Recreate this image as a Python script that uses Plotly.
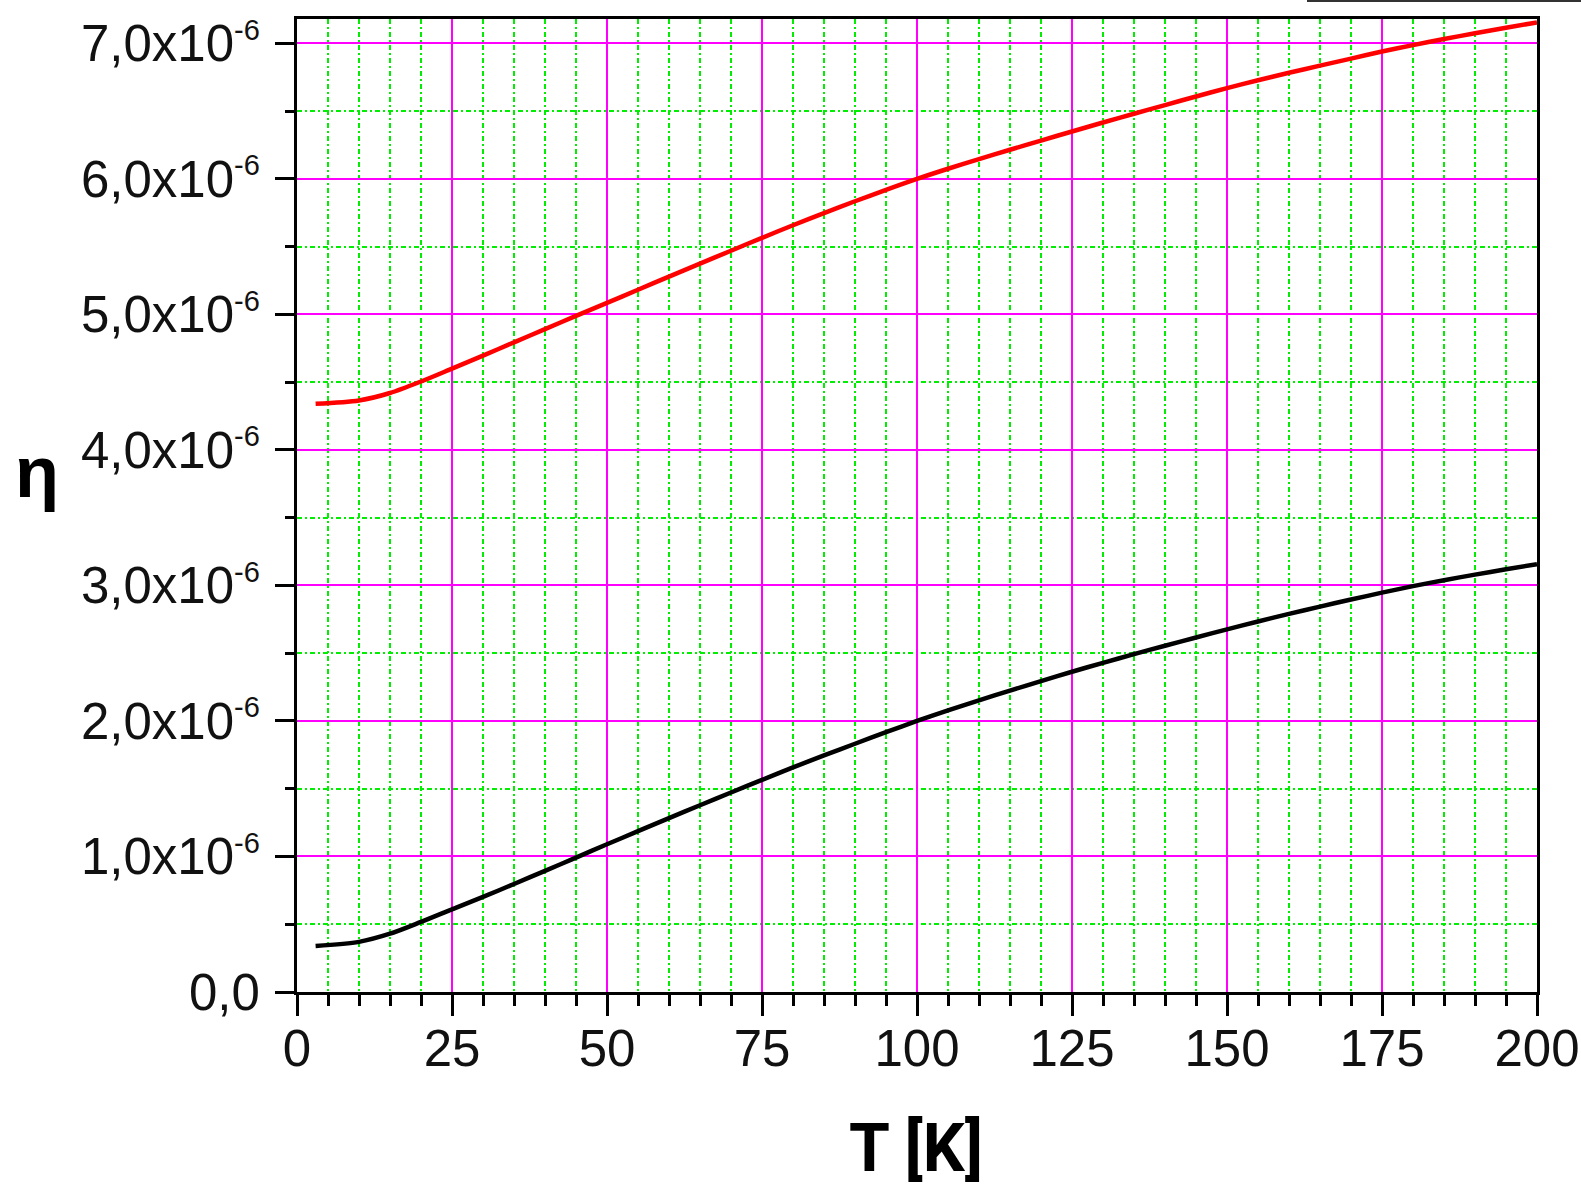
import plotly.graph_objects as go

# Data (eta in units of 1e-6)
T = [3, 10, 15, 20, 25, 30, 35, 40, 45, 50, 55, 60, 65, 70, 75, 80, 85, 90, 95, 100,
     105, 110, 115, 120, 125, 130, 135, 140, 145, 150, 155, 160, 165, 170, 175, 180,
     185, 190, 195, 200]
eta_red = [4.34, 4.365, 4.42, 4.505, 4.60, 4.696, 4.794, 4.892, 4.989, 5.085, 5.182, 5.279,
           5.375, 5.470, 5.565, 5.658, 5.748, 5.835, 5.919, 6.0, 6.075, 6.146, 6.215, 6.283,
           6.35, 6.416, 6.481, 6.545, 6.608, 6.67, 6.728, 6.783, 6.836, 6.888, 6.94, 6.987,
           7.032, 7.075, 7.116, 7.155]
eta_black = [0.34, 0.37, 0.43, 0.517, 0.61, 0.702, 0.797, 0.894, 0.992, 1.09, 1.187, 1.283,
             1.378, 1.472, 1.565, 1.657, 1.746, 1.832, 1.917, 2.0, 2.078, 2.152, 2.224, 2.294,
             2.363, 2.429, 2.493, 2.555, 2.616, 2.676, 2.734, 2.79, 2.844, 2.896, 2.947,
             2.995, 3.039, 3.08, 3.119, 3.157]
SCALE = 1e-6

x_ticks = [0, 25, 50, 75, 100, 125, 150, 175, 200]
y_tick_vals = [0, 1, 2, 3, 4, 5, 6, 7]
y_tick_text = ["0,0"] + ["%d,0x10<sup><span style='font-size:29px'>-6</span></sup>" % v for v in y_tick_vals[1:]]

W, H = 1581, 1188
L, R, TOP, B = 297, 44, 19, 196
plot_w = W - L - R
plot_h = H - TOP - B

FONT = "Liberation Sans, Arial, sans-serif"
FONT_TITLE = "Roboto, Liberation Sans, sans-serif"

fig = go.Figure()
fig.add_trace(go.Scatter(x=T, y=[v * SCALE for v in eta_red], mode="lines",
                         line=dict(color="#ff0000", width=4.5, shape="spline", smoothing=0.8),
                         showlegend=False))
fig.add_trace(go.Scatter(x=T, y=[v * SCALE for v in eta_black], mode="lines",
                         line=dict(color="#000000", width=4.5, shape="spline", smoothing=0.8),
                         showlegend=False))

fig.update_layout(
    width=W, height=H,
    margin=dict(l=L, r=R, t=TOP, b=B, pad=0, autoexpand=False),
    paper_bgcolor="white", plot_bgcolor="white",
    font=dict(family=FONT, color="black", size=51),
    showlegend=False,
)

fig.update_xaxes(
    range=[0, 200], tickmode="array", tickvals=x_ticks, ticktext=[str(v) for v in x_ticks],
    automargin=False,
    showline=True, linecolor="black", linewidth=3, mirror=True,
    ticks="outside", ticklen=21, tickwidth=3, tickcolor="black",
    ticklabelstandoff=-11,
    tickfont=dict(family=FONT, size=51, color="#111111"),
    showgrid=True, gridcolor="#ff00ff", gridwidth=1.7,
    zeroline=False,
    minor=dict(dtick=5, tick0=0, ticks="outside", ticklen=11, tickwidth=3, tickcolor="black",
               showgrid=True, gridcolor="#00ee00", gridwidth=1.6, griddash="5px,3px,2px,3px"),
)
fig.update_yaxes(
    range=[0, 7.18 * SCALE], tickmode="array", tickvals=[v * SCALE for v in y_tick_vals],
    ticktext=y_tick_text,
    automargin=False,
    showline=True, linecolor="black", linewidth=3, mirror=True,
    ticks="outside", ticklen=19, tickwidth=3, tickcolor="black",
    ticklabelstandoff=5,
    tickfont=dict(family=FONT, size=51, color="#111111"),
    showgrid=True, gridcolor="#ff00ff", gridwidth=1.7,
    zeroline=False,
    minor=dict(dtick=0.5 * SCALE, tick0=0, ticks="outside", ticklen=9, tickwidth=3, tickcolor="black",
               showgrid=True, gridcolor="#00ee00", gridwidth=1.6, griddash="5px,3px,2px,3px"),
)

def px_x(p):
    return (p - L) / plot_w

def px_y(p):
    return (H - B - p) / plot_h

fig.add_annotation(text="<b>T [K]</b>", xref="paper", yref="paper",
                   x=px_x(916), y=px_y(1148), xanchor="center", yanchor="middle",
                   showarrow=False, font=dict(family=FONT_TITLE, size=66, color="black"))
fig.add_annotation(text="<b>η</b>", xref="paper", yref="paper",
                   x=px_x(37), y=px_y(472), xanchor="center", yanchor="middle",
                   showarrow=False, font=dict(family=FONT, size=72, color="black"))

# cut-off legend frame edge at top right
fig.add_shape(type="line", xref="paper", yref="paper",
              x0=px_x(1307), x1=px_x(1581), y0=px_y(1), y1=px_y(1),
              line=dict(color="#333333", width=2))

fig.write_html(
    "out.html",
    config={"displayModeBar": False},
    post_script="document.body.style.margin='0';document.body.style.overflow='hidden';",
)
